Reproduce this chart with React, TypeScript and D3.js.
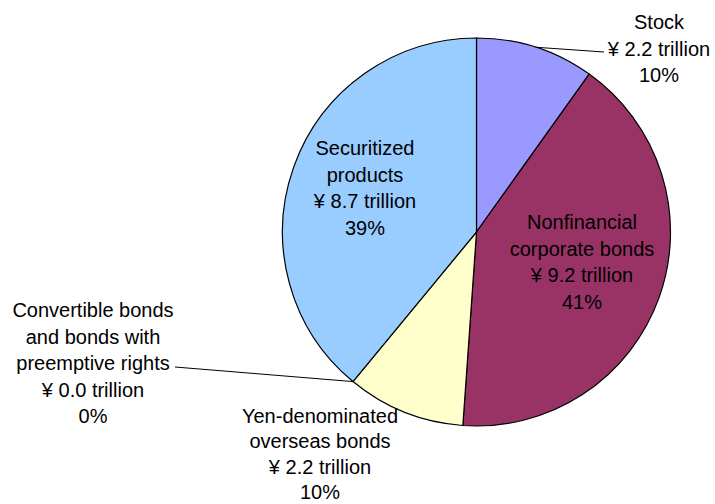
import React from "react";
import * as d3 from "d3";

const categories = [
  "Stock",
  "Nonfinancial corporate bonds",
  "Yen-denominated overseas bonds",
  "Convertible bonds and bonds with preemptive rights",
  "Securitized products",
];
const values = [2.2, 9.2, 2.2, 0.0, 8.7];
const percents = ["10%", "41%", "10%", "0%", "39%"];
const labelLines = [
  ["Stock"],
  ["Nonfinancial", "corporate bonds"],
  ["Yen-denominated", "overseas bonds"],
  ["Convertible bonds", "and bonds with", "preemptive rights"],
  ["Securitized", "products"],
];
const colors = ["#9999FF", "#993366", "#FFFFCC", "#FFFFFF", "#99CCFF"];

const W = 715;
const H = 504;
const cx = 476.5;
const cy = 232;
const R = 194;
const LH = 26.5;

export default function App() {
  const pie = d3.pie<number>().sort(null).value((d) => d)(values);
  const arc = d3.arc<d3.PieArcDatum<number>>().innerRadius(0).outerRadius(R);
  const edge = (a: number): [number, number] => [cx + R * Math.sin(a), cy - R * Math.cos(a)];

  const lines = (i: number) => [
    ...labelLines[i],
    `¥ ${values[i].toFixed(1)} trillion`,
    percents[i],
  ];

  const textBlock = (i: number, x: number, firstBaseline: number, lh: number = LH) => (
    <text
      key={"t" + i}
      x={x}
      y={firstBaseline}
      textAnchor="middle"
      fontFamily="Liberation Sans, Arial, sans-serif"
      fontSize={20}
      fill="#000"
    >
      {lines(i).map((s, j) => (
        <tspan key={j} x={x} y={firstBaseline + j * lh}>
          {s}
        </tspan>
      ))}
    </text>
  );

  const stockMid = (pie[0].startAngle + pie[0].endAngle) / 2;
  const sEdge = edge(stockMid);
  const convA = (pie[3].startAngle + pie[3].endAngle) / 2;
  const cEdge = edge(convA);

  return (
    <svg width={W} height={H} style={{ position: "absolute", left: 0, top: 0 }}>
      <rect width={W} height={H} fill="#fff" />
      <g transform={`translate(${cx},${cy})`}>
        {pie.map((p, i) =>
          p.endAngle - p.startAngle > 0 ? (
            <path key={i} d={arc(p) || ""} fill={colors[i]} stroke="#000" strokeWidth={1.2} />
          ) : null
        )}
      </g>
      {textBlock(4, 365, 155)}
      {textBlock(1, 582, 229)}
      <line x1={sEdge[0]} y1={sEdge[1]} x2={604} y2={52} stroke="#000" strokeWidth={1} />
      {textBlock(0, 659, 29)}
      <line x1={175} y1={367} x2={cEdge[0]} y2={cEdge[1]} stroke="#000" strokeWidth={1} />
      {textBlock(3, 93, 317)}
      {textBlock(2, 320, 423, 25.3)}
    </svg>
  );
}
